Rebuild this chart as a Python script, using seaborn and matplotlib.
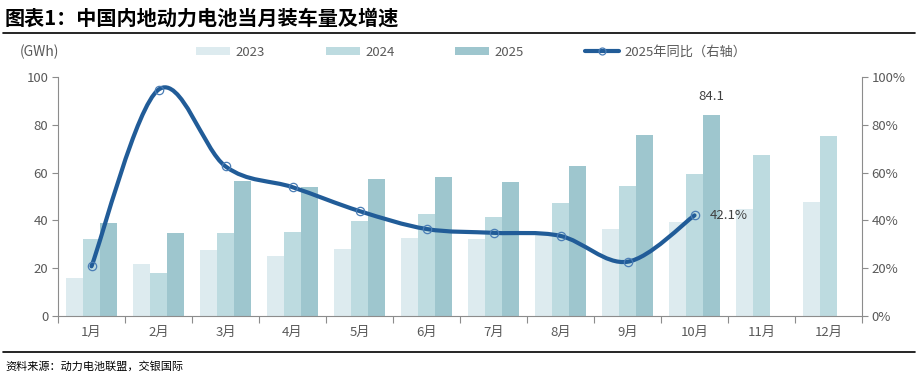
import numpy as np
import pandas as pd
import matplotlib
matplotlib.use("Agg")
import matplotlib.pyplot as plt
import seaborn as sns
from matplotlib.path import Path
from matplotlib.patches import PathPatch, Patch
from matplotlib.lines import Line2D
from matplotlib.ticker import FuncFormatter

# 数据（GWh，同比 %）
months = ["1月", "2月", "3月", "4月", "5月", "6月", "7月", "8月", "9月", "10月", "11月", "12月"]
years = ["2023", "2024", "2025"]
v2023 = [16.1, 21.9, 27.7, 25.2, 28.1, 32.7, 32.3, 34.9, 36.4, 39.3, 44.7, 47.6]
v2024 = [32.3, 18.1, 34.8, 35.2, 39.8, 42.7, 41.4, 47.2, 54.3, 59.3, 67.2, 75.5]
v2025 = [38.9, 34.8, 56.5, 53.9, 57.2, 58.0, 56.0, 62.6, 75.9, 84.1, np.nan, np.nan]
yoy2025 = [20.8, 94.7, 62.6, 53.9, 43.9, 36.4, 34.8, 33.5, 22.7, 42.1]

bar_colors = ["#DDEBEF", "#BDDBE0", "#9EC6CE"]
line_color = "#215C98"
grey = "#595959"
axis_grey = "#8C8C8C"

df = pd.DataFrame({
    "month": months * 3,
    "year": ["2023"] * 12 + ["2024"] * 12 + ["2025"] * 12,
    "value": v2023 + v2024 + v2025,
})

sns.set_theme(style="white")
plt.rcParams["font.family"] = ["Noto Sans CJK SC", "DejaVu Sans"]

fig = plt.figure(figsize=(9.19, 3.84), dpi=100)
ax = fig.add_axes([58 / 919, 1 - 316 / 384, (862 - 58) / 919, (316 - 77) / 384])

sns.barplot(data=df, x="month", y="value", hue="year", order=months, hue_order=years,
            palette=bar_colors, saturation=1, width=0.75, gap=0, ax=ax, legend=False,
            edgecolor="none", linewidth=0)

ax.set_xlim(-0.5, 11.5)
ax.set_ylim(0, 100)
ax.set_yticks(range(0, 101, 20))
ax.set_xlabel("")
ax.set_ylabel("")
ax.set_xticks(np.arange(-0.5, 12, 1), minor=True)
ax.tick_params(axis="x", which="major", length=0, labelsize=9.5, labelcolor=grey, pad=7)
ax.tick_params(axis="x", which="minor", length=5, width=0.8, color=axis_grey, direction="out", bottom=True)
ax.tick_params(axis="y", length=4, width=0.8, color=axis_grey, direction="out", left=True,
               labelsize=9.5, labelcolor=grey, pad=3)
for s in ["left", "bottom"]:
    ax.spines[s].set_color(axis_grey)
    ax.spines[s].set_linewidth(0.8)
for s in ["top", "right"]:
    ax.spines[s].set_visible(False)

# 右轴：同比
ax2 = ax.twinx()
ax2.set_ylim(0, 100)
ax2.set_yticks(range(0, 101, 20))
ax2.yaxis.set_major_formatter(FuncFormatter(lambda v, p: f"{v:.0f}%"))
ax2.tick_params(axis="y", length=4, width=0.8, color=axis_grey, direction="out", right=True,
                labelsize=9.5, labelcolor=grey, pad=3)
for s in ["left", "top", "bottom"]:
    ax2.spines[s].set_visible(False)
ax2.spines["right"].set_color(axis_grey)
ax2.spines["right"].set_linewidth(0.8)
ax2.grid(False)
ax.grid(False)

# 平滑曲线（贝塞尔）
xs = np.arange(len(yoy2025), dtype=float)
ys = np.array(yoy2025, dtype=float)
pts = np.column_stack([xs, ys])
verts = [pts[0]]
codes = [Path.MOVETO]
n = len(pts)
for i in range(n - 1):
    p0 = pts[i - 1] if i > 0 else pts[i]
    p1 = pts[i]
    p2 = pts[i + 1]
    p3 = pts[i + 2] if i + 2 < n else pts[i + 1]
    c1 = p1 + (p2 - p0) / 6
    c2 = p2 - (p3 - p1) / 6
    verts += [c1, c2, p2]
    codes += [Path.CURVE4] * 3
ax2.add_patch(PathPatch(Path(verts, codes), facecolor="none", edgecolor=line_color,
                        lw=3, capstyle="round", joinstyle="round", zorder=3))
ax2.plot(xs, ys, linestyle="none", marker="o", ms=6, mfc="none", mec="#4A7DB5", mew=0.9, zorder=4)

# 标注
ax.text(9.25, 84.1 + 5, "84.1", ha="center", va="bottom", fontsize=9.5, color="#404040")
ax2.text(9.23, 42.1, "42.1%", ha="left", va="center", fontsize=9.5, color="#404040")

# 图例
handles = [Patch(facecolor=c, edgecolor="none") for c in bar_colors]
handles.append(Line2D([0], [0], color=line_color, lw=3, marker="o", ms=5,
                      mfc="none", mec="#4A7DB5", mew=0.9))
fig.legend(handles, years + ["2025年同比（右轴）"], loc="center left",
           bbox_to_anchor=(184 / 919, 1 - 52 / 384), ncol=4, frameon=False,
           fontsize=9.5, labelcolor=grey, handlelength=2.6, handleheight=0.6,
           columnspacing=4.6, handletextpad=0.4)

fig.text(20 / 919, 1 - 52 / 384, "(GWh)", ha="left", va="center", fontsize=10, color=grey)

# 标题与来源
fig.text(5 / 919, 1 - 18 / 384, "图表1：中国内地动力电池当月装车量及增速", ha="left", va="center",
         fontsize=14.5, fontweight="bold", color="black")
fig.add_artist(Line2D([3 / 919, 915 / 919], [1 - 33 / 384, 1 - 33 / 384], color="black", lw=1.2))
fig.add_artist(Line2D([3 / 919, 915 / 919], [1 - 352 / 384, 1 - 352 / 384], color="black", lw=1.2))
fig.text(5 / 919, 1 - 366 / 384, "资料来源：动力电池联盟，交银国际", ha="left", va="center",
         fontsize=8, style="italic", color="black")

fig.savefig("out.png", dpi=100)
